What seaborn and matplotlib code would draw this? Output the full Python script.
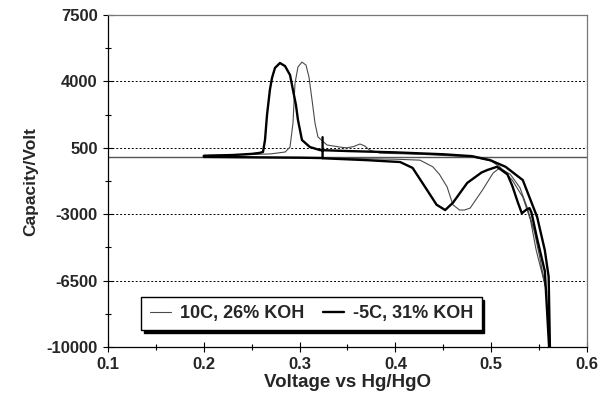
import matplotlib
matplotlib.use("Agg")
import matplotlib.pyplot as plt
import seaborn as sns
import pandas as pd

# 10C, 26% KOH  (thin trace): forward scan then reverse scan
thin_v = [0.200, 0.240, 0.270, 0.285, 0.290, 0.2931, 0.2952, 0.2983, 0.3025, 0.3067,
          0.3098, 0.313, 0.3161, 0.3192, 0.3286, 0.342, 0.349,
          0.356, 0.363, 0.368, 0.373, 0.384, 0.430,
          0.480, 0.500, 0.509, 0.522, 0.533, 0.541, 0.547, 0.553, 0.558,
          0.555, 0.550, 0.545, 0.538, 0.530, 0.520, 0.509, 0.502, 0.491, 0.478,
          0.472, 0.467, 0.460, 0.454, 0.446, 0.439, 0.4257, 0.400, 0.300, 0.200]
thin_cap = [100, 130, 180, 280, 540, 1800, 3900, 4760, 5020, 4860,
            4230, 3020, 1800, 1070, 650, 540, 500,
            560, 700, 600, 380, 220, 150,
            20, -200, -500, -1200, -2100, -3300, -4900, -6100, -7100,
            -6400, -5100, -3900, -2700, -1600, -900, -560, -830, -1720, -2680,
            -2780, -2780, -2500, -1560, -900, -500, -150, -100, -30, 0]

# -5C, 31% KOH  (thick trace)
thick_v = [0.324, 0.324, 0.300, 0.250, 0.200,
           0.200, 0.230, 0.250, 0.258, 0.2618, 0.2639, 0.266, 0.269, 0.2712, 0.2743,
           0.2795, 0.2848, 0.290, 0.2931, 0.2962, 0.2983, 0.3025, 0.3108, 0.3213,
           0.350, 0.400, 0.450, 0.480,
           0.499, 0.515, 0.533, 0.548, 0.556, 0.560, 0.5615,
           0.5610, 0.556, 0.548, 0.542, 0.540, 0.537, 0.532, 0.528, 0.522, 0.517,
           0.506, 0.496, 0.490, 0.475, 0.460, 0.452, 0.443, 0.433, 0.418, 0.405,
           0.370, 0.324]
thick_cap = [1060, -40, -20, 0, 20,
             80, 120, 180, 230, 280, 910, 2230, 3550, 4180, 4710,
             4970, 4810, 4340, 3550, 2760, 1970, 910, 540, 380,
             330, 260, 160, 60,
             -150, -500, -1200, -3150, -4900, -6300, -10500,
             -10500, -6000, -4300, -2900, -2680, -2750, -2950, -2400, -1500, -900,
             -500, -670, -800, -1350, -2400, -2780, -2500, -1720, -560, -250,
             -150, -50]

series_labels = ["10C, 26% KOH", "-5C, 31% KOH"]
x_ticks = [0.1, 0.2, 0.3, 0.4, 0.5, 0.6]
y_ticks = [-10000, -6500, -3000, 500, 4000, 7500]

thin_df = pd.DataFrame({"v": thin_v, "cap": thin_cap})
thick_df = pd.DataFrame({"v": thick_v, "cap": thick_cap})

sns.set_style("white")
plt.rcParams["font.family"] = ["Liberation Sans", "DejaVu Sans"]
plt.rcParams["font.weight"] = "bold"

fig = plt.figure(figsize=(6.05, 4.07), dpi=100)
ax = fig.add_axes([0.1785, 0.1474, 0.7917, 0.8157])

ax.axhline(0, color="#555555", lw=1.0, zorder=1)
sns.lineplot(data=thin_df, x="v", y="cap", sort=False, estimator=None,
             color="#4a4a4a", lw=0.8, label=series_labels[0], ax=ax)
sns.lineplot(data=thick_df, x="v", y="cap", sort=False, estimator=None,
             color="black", lw=1.7, label=series_labels[1], ax=ax)

ax.set_xlim(0.1, 0.6)
ax.set_ylim(-10000, 7500)
ax.set_xticks(x_ticks)
ax.set_xticklabels([f"{t:.1f}" for t in x_ticks])
ax.set_xticks([0.15, 0.25, 0.35, 0.45, 0.55], minor=True)
ax.set_yticks(y_ticks)
ax.set_yticklabels([str(t) for t in y_ticks])
ax.set_yticks([(a + b) / 2 for a, b in zip(y_ticks[:-1], y_ticks[1:])], minor=True)
ax.tick_params(axis="both", which="both", bottom=True, left=True)
ax.tick_params(axis="both", which="major", direction="inout", length=7, width=0.8,
               labelsize=12, color="black", pad=4)
ax.tick_params(axis="both", which="minor", direction="inout", length=5, width=0.8,
               color="black")
for lab in ax.get_xticklabels() + ax.get_yticklabels():
    lab.set_fontweight("bold")

for yv in y_ticks[1:-1]:
    ax.axhline(yv, color="black", lw=0.7, ls=(0, (2, 2)), zorder=0)

for s in ["left", "bottom"]:
    ax.spines[s].set_color("black")
    ax.spines[s].set_linewidth(0.9)
for s in ["top", "right"]:
    ax.spines[s].set_color("#777777")
    ax.spines[s].set_linewidth(0.9)

ax.set_xlabel("Voltage vs Hg/HgO", fontsize=13.5, fontweight="bold", labelpad=1)
ax.set_ylabel("Capacity/Volt", fontsize=12.5, fontweight="bold", labelpad=6)

leg = ax.legend(loc="center", bbox_to_anchor=(0.425, 0.101), ncol=2,
                fontsize=13, frameon=True, fancybox=False,
                shadow={"color": "black", "alpha": 1.0},
                handlelength=1.2, handletextpad=0.5, columnspacing=1.0,
                borderpad=0.45, borderaxespad=0.3, framealpha=1.0)
leg.get_frame().set_edgecolor("black")
leg.get_frame().set_linewidth(1.0)
for t in leg.get_texts():
    t.set_fontweight("bold")

fig.savefig("out.png", dpi=100)
